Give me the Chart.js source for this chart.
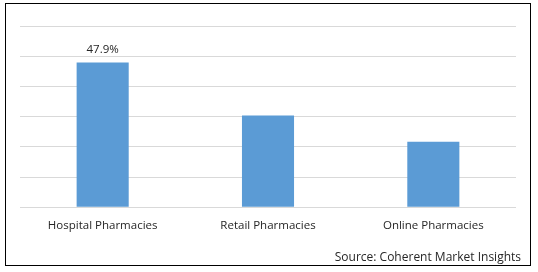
<!DOCTYPE html>
<html>
<head>
<meta charset="utf-8">
<script src="https://cdn.jsdelivr.net/npm/chart.js@4/dist/chart.umd.min.js"></script>
<style>
  html, body { margin: 0; padding: 0; background: #fff; }
  #wrap { width: 538px; height: 272px; position: relative; }
</style>
</head>
<body>
<div id="wrap"><canvas id="shareChart"></canvas></div>
<script>
const categories = ["Hospital Pharmacies", "Retail Pharmacies", "Online Pharmacies"];
const shares = [47.9, 30.4, 21.7];
const shareLabels = ["47.9%", "", ""];
const sourceText = "Source: Coherent Market Insights";

const textColor = "#262626";
const fontFamily = "'Open Sans', 'DejaVu Sans', sans-serif";

// value label over the bar, only where one is given
const barLabels = {
    id: "barLabels",
    afterDatasetsDraw(chart) {
        const ctx = chart.ctx;
        const meta = chart.getDatasetMeta(0);
        ctx.save();
        ctx.font = "11.5px " + fontFamily;
        ctx.fillStyle = textColor;
        ctx.textAlign = "center";
        ctx.textBaseline = "bottom";
        meta.data.forEach((bar, i) => {
            if (shareLabels[i]) ctx.fillText(shareLabels[i], bar.x, bar.y - 7);
        });
        ctx.restore();
    }
};

// outer frame and source line
const frame = {
    id: "frame",
    afterDraw(chart) {
        const ctx = chart.ctx;
        ctx.save();
        ctx.strokeStyle = "#000";
        ctx.lineWidth = 1;
        ctx.strokeRect(5.5, 3.5, 525, 262);
        ctx.font = "12px " + fontFamily;
        ctx.fillStyle = textColor;
        ctx.textAlign = "right";
        ctx.textBaseline = "middle";
        ctx.fillText(sourceText, 521, 258);
        ctx.restore();
    }
};

new Chart(document.querySelector("#shareChart"), {
    type: "bar",
    data: {
        labels: categories,
        datasets: [{
            data: shares,
            backgroundColor: "#5b9bd5",
            barPercentage: 0.315,
            categoryPercentage: 1
        }]
    },
    options: {
        responsive: true,
        maintainAspectRatio: false,
        animation: false,
        layout: { padding: { left: 20, right: 22, top: 26, bottom: 27 } },
        plugins: {
            legend: { display: false },
            tooltip: { enabled: false }
        },
        scales: {
            x: {
                grid: { display: false, drawTicks: false },
                border: { display: false },
                ticks: {
                    color: textColor,
                    padding: 12,
                    font: { family: fontFamily, size: 11.5 }
                }
            },
            y: {
                min: 0,
                max: 60,
                ticks: { display: false, stepSize: 10 },
                grid: { color: "#d9d9d9", drawTicks: false },
                border: { display: false }
            }
        }
    },
    plugins: [barLabels, frame]
});
</script>
</body>
</html>
